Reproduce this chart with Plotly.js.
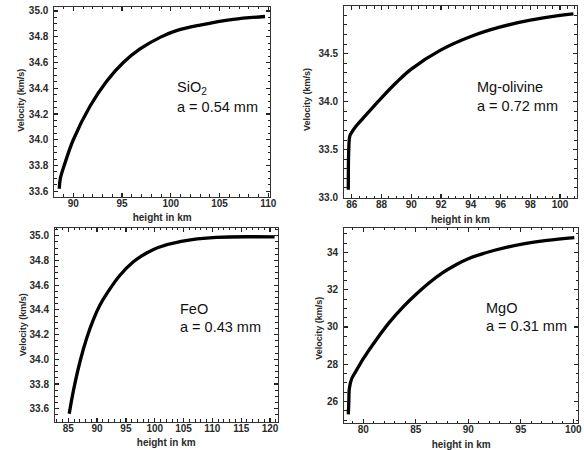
<!DOCTYPE html>
<html>
<head>
<meta charset="utf-8">
<script src="https://cdn.plot.ly/plotly-3.0.1.min.js"></script>
<style>html,body{margin:0;padding:0;background:#fff;}#chart{width:584px;height:450px;}</style>
</head>
<body>
<div id="chart"></div>
<script>
// SiO2, a = 0.54 mm
var sio2Height = [88.56, 88.67, 89.15, 90.0, 91.71, 93.42, 95.13, 96.84, 98.9, 100.5, 103.0, 106.4, 109.66];
var sio2Velocity = [33.62, 33.70, 33.82, 34.00, 34.26, 34.455, 34.60, 34.705, 34.795, 34.845, 34.89, 34.935, 34.957];

// Mg-olivine, a = 0.72 mm
var mgolHeight = [85.77, 85.80, 85.87, 86.0, 86.22, 86.78, 88.0, 89.0, 90.0, 92.0, 94.0, 96.0, 98.0, 100.0, 100.9];
var mgolVelocity = [33.08, 33.50, 33.64, 33.68, 33.73, 33.83, 34.04, 34.20, 34.34, 34.54, 34.68, 34.78, 34.85, 34.90, 34.915];

// FeO, a = 0.43 mm
var feoHeight = [85.17, 85.87, 87.03, 88.19, 89.34, 90.5, 91.66, 93.97, 96.3, 98.6, 100.6, 104.6, 110.7, 120.8];
var feoVelocity = [33.56, 33.74, 33.98, 34.17, 34.32, 34.44, 34.53, 34.68, 34.79, 34.86, 34.905, 34.955, 34.987, 34.99];

// MgO, a = 0.31 mm
var mgoHeight = [78.57, 78.62, 78.67, 78.9, 79.37, 80.0, 81.25, 82.5, 83.75, 85.0, 86.25, 87.5, 88.75, 90.0, 92.5, 95.0, 97.5, 100.1];
var mgoVelocity = [25.32, 26.0, 26.71, 27.24, 27.70, 28.30, 29.33, 30.26, 31.05, 31.74, 32.36, 32.89, 33.31, 33.66, 34.11, 34.43, 34.64, 34.79];

var labels = [
  {name: "SiO<sub>2</sub>", a: "a = 0.54 mm"},
  {name: "Mg-olivine", a: "a = 0.72 mm"},
  {name: "FeO", a: "a = 0.43 mm"},
  {name: "MgO", a: "a = 0.31 mm"}
];
var xTitle = "height in km";
var yTitle = "Velocity (km/s)";

var W = 584, H = 450;
var frameColor = '#333';
var tickColor = '#222';
var fam = 'Liberation Sans, Arial, sans-serif';
var tickFont = {family: fam, size: 10, weight: 'bold', color: '#2a2a2a'};

function line(x, y, xa, ya) {
  return {x: x, y: y, xaxis: xa, yaxis: ya, type: 'scatter', mode: 'lines',
    line: {color: '#000', width: 3.3, shape: 'spline', smoothing: 1}, hoverinfo: 'skip', showlegend: false};
}

function xAxis(px0, px1, range, dtick, minor, fmt, anchor) {
  return {domain: [px0 / W, px1 / W], range: range, anchor: anchor, dtick: dtick, tick0: 0, tickformat: fmt,
    ticks: 'inside', ticklen: 4, tickwidth: 1.2, tickcolor: tickColor, mirror: 'allticks', showline: true,
    linecolor: frameColor, linewidth: 1, showgrid: false, zeroline: false, ticklabelstandoff: -3,
    minor: {dtick: minor, tick0: 0, ticks: 'inside', ticklen: 2.5, tickwidth: 1, tickcolor: tickColor, showgrid: false},
    tickfont: tickFont,
    title: {text: xTitle, font: {family: fam, size: 10, weight: 'bold', color: '#2a2a2a'}, standoff: 6}};
}
function yAxis(py0, py1, range, dtick, minor, fmt, anchor) {
  return {domain: [1 - py1 / H, 1 - py0 / H], range: range, anchor: anchor, dtick: dtick, tick0: 0, tickformat: fmt,
    ticks: 'inside', ticklen: 4, tickwidth: 1.2, tickcolor: tickColor, mirror: 'allticks', showline: true,
    linecolor: frameColor, linewidth: 1, showgrid: false, zeroline: false, ticklabelstandoff: 3,
    minor: {dtick: minor, tick0: 0, ticks: 'inside', ticklen: 2.5, tickwidth: 1, tickcolor: tickColor, showgrid: false},
    tickfont: tickFont};
}

var data = [
  line(sio2Height, sio2Velocity, 'x', 'y'),
  line(mgolHeight, mgolVelocity, 'x2', 'y2'),
  line(feoHeight, feoVelocity, 'x3', 'y3'),
  line(mgoHeight, mgoVelocity, 'x4', 'y4')
];

var annFont = {family: fam, size: 14.5, color: '#111'};
function ann(text, px, py) {
  return {text: text, xref: 'paper', yref: 'paper', x: px / W, y: 1 - py / H, xanchor: 'left', yanchor: 'middle',
    showarrow: false, font: annFont};
}
function yTitleAnn(px, py) {
  return {text: yTitle, xref: 'paper', yref: 'paper', x: px / W, y: 1 - py / H, xanchor: 'center', yanchor: 'middle',
    textangle: -90, showarrow: false, font: {family: fam, size: 9, weight: 'bold', color: '#2a2a2a'}};
}

var layout = {
  width: W, height: H, margin: {l: 0, r: 0, t: 0, b: 0},
  paper_bgcolor: '#fff', plot_bgcolor: '#fff', showlegend: false,
  xaxis: xAxis(54.3, 270, [88.05, 110.17], 5, 1, '', 'y'),
  yaxis: yAxis(6.7, 196.7, [33.558, 35.033], 0.2, 0.05, '.1f', 'x'),
  xaxis2: xAxis(344, 576.7, [85.48, 101.12], 2, 0.5, '', 'y2'),
  yaxis2: yAxis(6, 198, [32.995, 34.998], 0.5, 0.1, '.1f', 'x2'),
  xaxis3: xAxis(55, 277.5, [82.7, 121.3], 5, 1, '', 'y3'),
  yaxis3: yAxis(227.7, 421.7, [33.495, 35.065], 0.2, 0.05, '.1f', 'x3'),
  xaxis4: xAxis(344, 578.3, [78.16, 100.48], 5, 1, '', 'y4'),
  yaxis4: yAxis(227.7, 423.3, [24.84, 35.32], 2, 0.5, 'd', 'x4'),
  annotations: [
    ann(labels[0].name, 175, 88), ann(labels[0].a, 175, 107),
    ann(labels[1].name, 474.7, 87.3), ann(labels[1].a, 474.7, 106),
    ann(labels[2].name, 177.7, 309.3), ann(labels[2].a, 177.7, 327.3),
    ann(labels[3].name, 484.3, 307.7), ann(labels[3].a, 484.3, 325.7),
    yTitleAnn(20.7, 100), yTitleAnn(307, 100), yTitleAnn(23.3, 325), yTitleAnn(318.7, 328)
  ]
};

Plotly.newPlot('chart', data, layout, {staticPlot: true, displayModeBar: false});
</script>
</body>
</html>
